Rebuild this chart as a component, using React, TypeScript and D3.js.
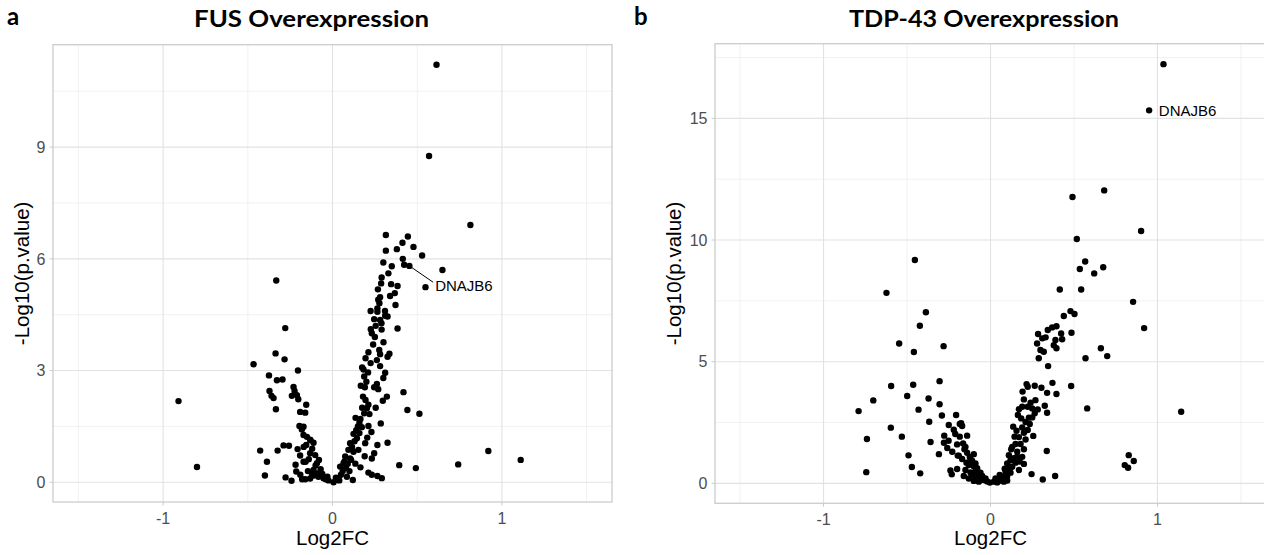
import React from "react";
import * as d3 from "d3";

// ---------- data ----------
const fusPoints: [number, number][] = [
  [-0.909, 2.18], [-0.8, 0.41], [-0.466, 3.17], [-0.332, 5.42], [-0.279, 4.14], [-0.336, 3.46], [-0.283, 3.3],
  [-0.204, 3.0], [-0.375, 2.87], [-0.328, 2.74], [-0.295, 2.76], [-0.23, 2.56], [-0.224, 2.45], [-0.372, 2.45],
  [-0.36, 2.32], [-0.348, 2.26], [-0.24, 2.32], [-0.21, 2.34], [-0.202, 2.23], [-0.334, 1.96], [-0.155, 2.08],
  [-0.191, 1.89], [-0.161, 1.87], [-0.195, 1.51], [-0.181, 1.42], [-0.171, 1.27], [-0.151, 1.22], [-0.132, 1.14],
  [-0.112, 1.06], [-0.155, 1.0], [-0.427, 0.85], [-0.324, 0.85], [-0.289, 0.99], [-0.257, 0.98], [-0.206, 0.89],
  [-0.191, 0.72], [-0.387, 0.55], [-0.218, 0.47], [-0.159, 0.55], [-0.132, 0.78], [-0.102, 0.73], [-0.214, 0.29],
  [-0.399, 0.18], [-0.277, 0.13], [-0.242, 0.04], [-0.179, 0.08], [-0.132, 0.1], [-0.112, 0.33], [-0.12, 0.2],
  [-0.092, 0.51], [-0.09, 0.24], [-0.083, 0.15], [-0.053, 0.11], [-0.024, 0.05], [-0.171, 0.55], [-0.13, 1.13],
  [-0.171, 1.49], [-0.161, 0.08], [-0.07, 0.35], [-0.06, 0.22], [-0.04, 0.08], [-0.03, 0.15], [-0.1, 0.45],
  [-0.14, 0.62], [-0.17, 0.95], [-0.12, 0.9], [-0.08, 0.6], [-0.11, 0.18], [-0.145, 0.3], [-0.19, 0.2],
  [0.614, 11.21], [0.57, 8.76], [0.814, 6.91], [0.315, 6.64], [0.445, 6.6], [0.413, 6.43], [0.478, 6.32],
  [0.315, 6.22], [0.38, 6.26], [0.529, 6.09], [0.415, 6.0], [0.423, 5.84], [0.454, 5.81], [0.649, 5.7],
  [0.33, 5.61], [0.287, 5.34], [0.346, 5.32], [0.384, 5.27], [0.549, 5.24], [0.268, 5.18], [0.368, 5.08],
  [0.281, 4.97], [0.277, 4.81], [0.372, 4.76], [0.265, 4.67], [0.265, 4.58], [0.246, 4.38], [0.281, 4.36],
  [0.311, 4.47], [0.325, 4.45], [0.289, 4.27], [0.384, 4.13], [0.226, 4.11], [0.232, 4.0], [0.301, 3.76],
  [0.212, 3.49], [0.276, 3.55], [0.281, 3.44], [0.336, 3.45], [0.325, 3.37], [0.195, 3.33], [0.262, 3.28],
  [0.281, 3.12], [0.175, 3.08], [0.183, 3.03], [0.311, 2.94], [0.187, 2.84], [0.262, 2.64], [0.246, 2.55],
  [0.167, 2.59], [0.191, 2.55], [0.321, 2.3], [0.297, 2.19], [0.419, 2.42], [0.195, 2.21], [0.212, 2.08],
  [0.203, 1.99], [0.218, 1.83], [0.442, 1.94], [0.513, 1.84], [0.187, 1.85], [0.136, 1.73], [0.159, 1.6],
  [0.285, 1.58], [0.173, 1.48], [0.212, 1.51], [0.124, 1.3], [0.159, 1.32], [0.144, 1.18], [0.193, 1.05],
  [0.325, 1.06], [0.265, 1.0], [0.104, 1.05], [0.094, 0.87], [0.124, 0.82], [0.153, 0.87], [0.92, 0.84],
  [0.246, 0.78], [0.232, 0.64], [0.075, 0.69], [0.104, 0.64], [1.111, 0.6], [0.065, 0.51], [0.045, 0.42],
  [0.394, 0.46], [0.492, 0.38], [0.742, 0.48], [0.212, 0.26], [0.232, 0.2], [0.265, 0.17], [0.291, 0.11],
  [0.12, 0.06], [0.006, 0.0], [0.03, 0.06], [0.02, 0.12], [0.05, 0.2], [0.06, 0.3], [0.08, 0.38], [0.09, 0.5],
  [0.11, 0.6], [0.115, 0.95], [0.13, 1.1], [0.14, 1.4], [0.15, 1.5], [0.165, 1.7], [0.175, 2.0], [0.18, 2.3],
  [0.2, 2.7], [0.21, 2.95], [0.225, 3.2], [0.24, 3.7], [0.25, 3.9], [0.255, 4.2], [0.27, 4.9], [0.29, 5.5],
  [0.3, 5.9], [0.085, 0.15], [0.04, 0.05], [0.1, 0.3], [0.07, 0.55], [0.135, 0.5], [0.165, 0.4], [0.19, 0.7],
  [0.205, 1.2], [0.23, 1.35], [0.255, 2.0], [0.27, 2.5], [0.3, 2.8], [0.29, 4.1], [0.31, 4.6], [0.34, 5.0],
  [0.35, 5.8], [0.225, 4.6],
];

const tdpPoints: [number, number][] = [
  [-0.453, 9.18], [-0.623, 7.83], [-0.387, 7.03], [-0.423, 6.48], [-0.547, 5.75], [-0.459, 5.4], [-0.281, 5.64],
  [-0.305, 4.2], [-0.595, 4.0], [-0.463, 4.05], [-0.499, 3.59], [-0.371, 3.49], [-0.702, 3.41], [-0.305, 3.25],
  [-0.79, 2.97], [-0.431, 3.03], [-0.291, 2.79], [-0.206, 2.81], [-0.367, 2.53], [-0.597, 2.29], [-0.277, 1.96],
  [-0.211, 2.03], [-0.531, 1.92], [-0.74, 1.82], [-0.251, 1.75], [-0.279, 1.67], [-0.359, 1.7], [-0.259, 1.45],
  [-0.229, 1.3], [-0.309, 1.2], [-0.491, 1.15], [-0.196, 1.14], [-0.471, 0.67], [-0.744, 0.46], [-0.421, 0.41],
  [-0.24, 0.53], [-0.232, 0.37], [-0.2, 0.59], [-0.184, 2.44], [-0.176, 2.47], [-0.17, 2.36], [-0.14, 1.96],
  [-0.184, 1.92], [-0.164, 1.64], [-0.156, 1.4], [-0.19, 1.14], [-0.14, 1.26], [-0.1, 1.2], [-0.124, 1.09],
  [-0.11, 0.93], [-0.144, 0.85], [-0.09, 0.82], [-0.15, 0.55], [-0.08, 0.62], [-0.06, 0.44], [-0.11, 0.34],
  [-0.076, 0.2], [-0.04, 0.14], [-0.004, 0.03], [-0.02, 0.08], [-0.03, 0.2], [-0.05, 0.3], [-0.07, 0.4],
  [-0.09, 0.5], [-0.1, 0.7], [-0.13, 0.75], [-0.12, 1.0], [-0.17, 1.0], [-0.06, 0.15], [-0.085, 0.25],
  [-0.12, 0.45], [-0.16, 0.3], [-0.13, 0.2], [-0.1, 0.1], [-0.07, 0.07], [-0.15, 1.5], [-0.2, 1.6],
  [-0.22, 2.2], [-0.25, 2.4],
  [0.02, 0.07], [0.05, 0.1], [0.08, 0.07], [0.07, 0.27], [0.09, 0.48], [0.12, 0.44], [0.13, 0.68], [0.17, 0.55],
  [0.1, 0.82], [0.14, 1.03], [0.19, 1.09], [0.11, 1.16], [0.124, 1.4], [0.16, 1.3], [0.18, 1.62], [0.15, 1.62],
  [0.13, 1.5], [0.246, 0.38], [0.313, 0.16], [0.387, 0.3], [0.337, 1.33], [0.144, 1.92], [0.156, 2.16],
  [0.136, 2.33], [0.2, 2.08], [0.223, 2.19], [0.256, 1.95], [0.235, 2.44], [0.21, 2.52], [0.184, 2.67],
  [0.25, 2.71], [0.265, 2.88], [0.164, 2.81], [0.17, 3.05], [0.19, 3.15], [0.223, 3.15], [0.25, 3.08],
  [0.283, 3.04], [0.339, 2.9], [0.325, 3.19], [0.269, 3.42], [0.24, 3.31], [0.2, 3.45], [0.192, 3.77],
  [0.223, 3.97], [0.216, 4.08], [0.265, 4.01], [0.305, 3.93], [0.339, 3.72], [0.395, 3.67], [0.371, 4.13],
  [0.483, 4.0], [0.579, 3.08], [1.142, 2.94], [0.828, 1.16], [0.858, 0.92], [0.804, 0.75], [0.824, 0.64],
  [0.289, 5.14], [0.345, 4.82], [0.569, 5.14], [0.661, 5.55], [0.699, 5.23], [0.92, 6.38], [0.854, 7.46],
  [0.485, 6.19], [0.479, 7.08], [0.503, 6.96], [0.439, 6.88], [0.279, 5.75], [0.299, 5.48], [0.319, 5.41],
  [0.285, 6.14], [0.31, 5.96], [0.33, 6.0], [0.343, 6.3], [0.369, 6.41], [0.395, 6.46], [0.389, 5.89],
  [0.423, 6.16], [0.429, 5.92], [0.379, 5.68], [0.395, 5.55], [1.036, 17.23], [0.95, 15.33], [0.681, 12.04],
  [0.491, 11.77], [0.902, 10.37], [0.517, 10.04], [0.567, 9.12], [0.535, 8.81], [0.675, 8.88], [0.621, 8.63],
  [0.415, 7.97], [0.543, 7.97], [0.03, 0.2], [0.04, 0.04], [0.06, 0.15], [0.1, 0.3], [0.11, 0.6], [0.15, 0.85],
  [0.16, 1.1], [0.17, 1.9], [0.2, 1.4], [0.21, 1.8], [0.19, 2.3], [0.23, 2.7], [0.175, 0.9], [0.12, 0.95],
  [0.085, 0.6], [0.055, 0.35], [0.1, 0.12], [0.2, 0.8],
];

const xTicks = [-1, 0, 1];
const xMinor = [-1.5, -0.5, 0.5, 1.5];
const fusYTicks = [0, 3, 6, 9];
const fusYMinor = [1.5, 4.5, 7.5, 10.5];
const tdpYTicks = [0, 5, 10, 15];
const tdpYMinor = [2.5, 7.5, 12.5, 17.5];

// label: gene point, label anchor (data units)
const fusLabel = { gene: "DNAJB6", x: 0.454, y: 5.81, lx: 0.606, ly: 5.13, segment: true };
const tdpLabel = { gene: "DNAJB6", x: 0.95, y: 15.33, lx: 1.008, ly: 15.1, segment: false };

type PanelProps = {
  points: [number, number][];
  left: number; right: number; top: number; bottom: number;
  yDomain: [number, number];
  yTicks: number[]; yMinor: number[];
  title: string; titleX: number; titleLen: number;
  letter: string; letterX: number;
  yLabelX: number;
  label: typeof fusLabel;
};

const TICK_FONT = "'Liberation Sans', Arial, sans-serif";
const TITLE_FONT = "Lato, 'Open Sans', sans-serif";

function Panel(p: PanelProps) {
  const x = d3.scaleLinear().domain([-1.65, 1.65]).range([p.left, p.right]);
  const y = d3.scaleLinear().domain(p.yDomain).range([p.bottom, p.top]);
  const midY = (p.top + p.bottom) / 2;
  const midX = x(0);
  const lab = p.label;
  return (
    <g>
      <clipPath id={"clip" + p.letter}>
        <rect x={p.left} y={p.top} width={p.right - p.left} height={p.bottom - p.top} />
      </clipPath>
      <g clipPath={`url(#clip${p.letter})`}>
        {xMinor.map((v) => (
          <line key={"xm" + v} x1={x(v)} x2={x(v)} y1={p.top} y2={p.bottom} stroke="#EEEEEE" strokeWidth={0.8} />
        ))}
        {p.yMinor.map((v) => (
          <line key={"ym" + v} x1={p.left} x2={p.right} y1={y(v)} y2={y(v)} stroke="#EEEEEE" strokeWidth={0.8} />
        ))}
        {xTicks.map((v) => (
          <line key={"xM" + v} x1={x(v)} x2={x(v)} y1={p.top} y2={p.bottom} stroke="#E2E2E2" strokeWidth={1.1} />
        ))}
        {p.yTicks.map((v) => (
          <line key={"yM" + v} x1={p.left} x2={p.right} y1={y(v)} y2={y(v)} stroke="#E2E2E2" strokeWidth={1.1} />
        ))}
        {lab.segment && (
          <line x1={x(lab.x)} y1={y(lab.y)} x2={x(lab.lx) - 2} y2={y(lab.ly) - 9} stroke="#000" strokeWidth={1} />
        )}
        {p.points.map((d, i) => (
          <circle key={i} cx={x(d[0])} cy={y(d[1])} r={3.2} fill="#000" />
        ))}
        <text x={x(lab.lx)} y={y(lab.ly)} fontFamily={TICK_FONT} fontSize={15} fill="#000">
          {lab.gene}
        </text>
      </g>
      <rect x={p.left} y={p.top} width={p.right - p.left} height={p.bottom - p.top} fill="none" stroke="#CCCCCC" strokeWidth={1.3} />
      {xTicks.map((v) => (
        <g key={"xt" + v}>
          <line x1={x(v)} x2={x(v)} y1={p.bottom} y2={p.bottom + 3.5} stroke="#CCCCCC" strokeWidth={1} />
          <text x={x(v)} y={p.bottom + 21.5} textAnchor="middle" fontFamily={TICK_FONT} fontSize={16} fill="#4D4D4D">
            {v < 0 ? "-" + Math.abs(v) : String(v)}
          </text>
        </g>
      ))}
      {p.yTicks.map((v) => (
        <g key={"yt" + v}>
          <line x1={p.left - 3.5} x2={p.left} y1={y(v)} y2={y(v)} stroke="#CCCCCC" strokeWidth={1} />
          <text x={p.left - 7.5} y={y(v) + 5.7} textAnchor="end" fontFamily={TICK_FONT} fontSize={16} fill="#4D4D4D">
            {v}
          </text>
        </g>
      ))}
      <text x={midX} y={545} textAnchor="middle" fontFamily={TICK_FONT} fontSize={20.5} fill="#000">
        Log2FC
      </text>
      <text
        transform={`translate(${p.yLabelX},${midY}) rotate(-90)`}
        textAnchor="middle"
        fontFamily={TICK_FONT}
        fontSize={20.5}
        fill="#000"
      >
        -Log10(p.value)
      </text>
      <text
        x={p.titleX}
        y={27}
        textAnchor="middle"
        fontFamily={TITLE_FONT}
        fontWeight={700}
        fontSize={23.5}
        textLength={p.titleLen}
        lengthAdjust="spacingAndGlyphs"
        fill="#000"
      >
        {p.title}
      </text>
      <text x={p.letterX} y={24.5} fontFamily={TITLE_FONT} fontWeight={700} fontSize={24} fill="#000">
        {p.letter}
      </text>
    </g>
  );
}

export default function App() {
  return (
    <svg
      width={1264}
      height={555}
      style={{ position: "absolute", left: 0, top: 0, background: "#fff" }}
      xmlns="http://www.w3.org/2000/svg"
    >
      <rect x={0} y={0} width={1264} height={555} fill="#fff" />
      <Panel
        points={fusPoints}
        left={53} right={612} top={44.7} bottom={502}
        yDomain={[-0.53, 11.75]}
        yTicks={fusYTicks} yMinor={fusYMinor}
        title="FUS Overexpression" titleX={311.5} titleLen={235}
        letter="a" letterX={7}
        yLabelX={29}
        label={fusLabel}
      />
      <Panel
        points={tdpPoints}
        left={715} right={1266} top={43.7} bottom={503.3}
        yDomain={[-0.82, 18.07]}
        yTicks={tdpYTicks} yMinor={tdpYMinor}
        title="TDP-43 Overexpression" titleX={984} titleLen={270}
        letter="b" letterX={634}
        yLabelX={681}
        label={tdpLabel}
      />
    </svg>
  );
}
